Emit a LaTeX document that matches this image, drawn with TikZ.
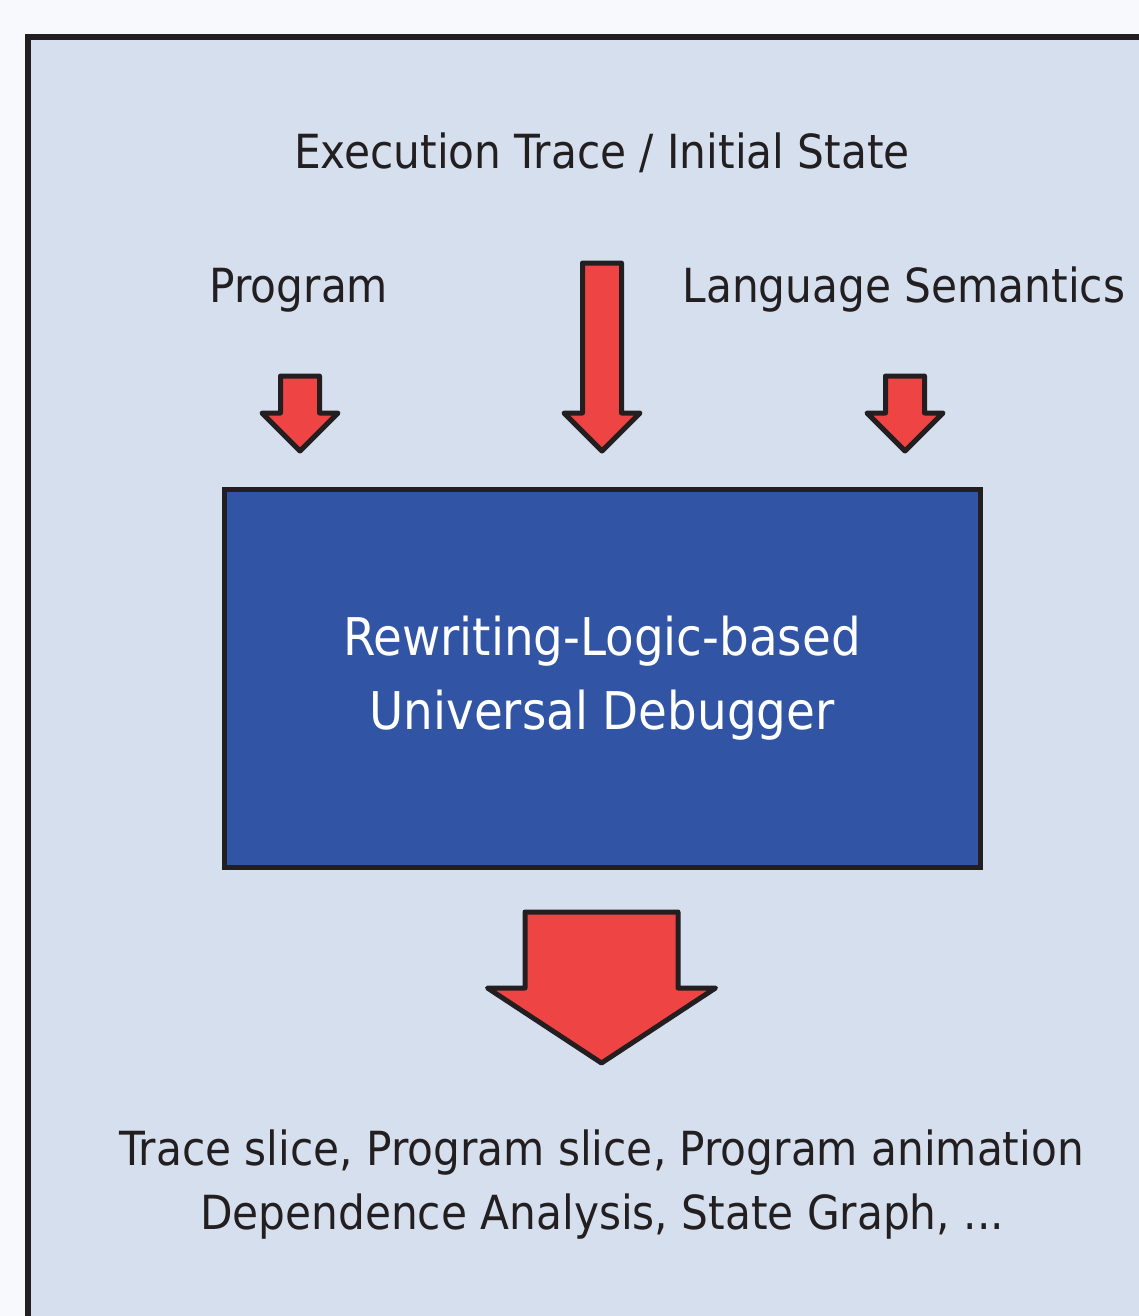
\documentclass[tikz,border=0pt]{standalone}
\usepackage{fontspec}
\setmainfont{DejaVu Sans Condensed}
\definecolor{ink}{HTML}{231F20}
\definecolor{pagebg}{HTML}{F7F9FD}
\definecolor{panel}{HTML}{D5DFEE}
\definecolor{boxblue}{HTML}{3155A4}
\definecolor{arrowred}{HTML}{EF4444}
\begin{document}
\begin{tikzpicture}[x=1pt,y=-1pt,
    txt/.style={font=\fontsize{47}{64}\selectfont,text=ink,inner sep=0pt},
    blk/.style={draw=ink,line width=5pt,line join=round,fill=arrowred}]
    \useasboundingbox[fill=pagebg] (0,0) rectangle (1139,1316);
    \draw[draw=ink,line width=5.5pt,fill=panel] (28,37) rectangle (1180,1360);
    % inputs
    \node[txt] (trace) at (602,153) {Execution Trace / Initial State};
    \node[txt] (prog) at (299,290) {Program};
    \node[txt] (sem) at (904,290) {Language Semantics};
    % debugger
    \node[draw=ink,line width=5pt,fill=boxblue,minimum width=756pt,minimum height=378pt,
          align=center,text=white,font=\fontsize{52}{74}\selectfont] (dbg) at (602,678)
          {Rewriting-Logic-based\\Universal Debugger};
    % outputs
    \node[txt,align=center] (out) at (602,1185)
          {Trace slice, Program slice, Program animation\\Dependence Analysis, State Graph, ...};
    % block arrows
    \foreach \cx/\t/\s/\h/\w/\p in {300/376/19.5/413/38/451,602/263/19.5/413/38/451,
            905/376/19.5/413/38/451,601.5/912/76.5/988/114/1063}
        \draw[blk] (\cx-\s,\t) -- (\cx+\s,\t) -- (\cx+\s,\h) -- (\cx+\w,\h) -- (\cx,\p)
            -- (\cx-\w,\h) -- (\cx-\s,\h) -- cycle;
\end{tikzpicture}
\end{document}
